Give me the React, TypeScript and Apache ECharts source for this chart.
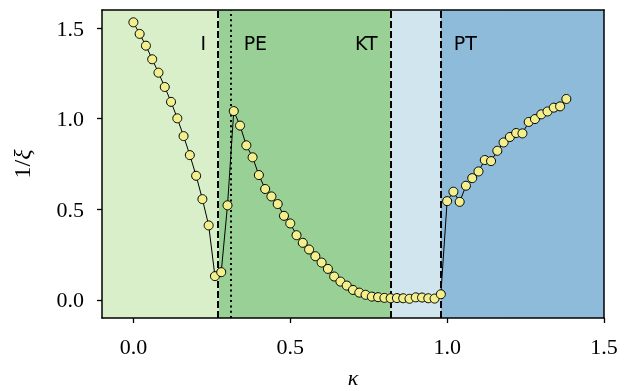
import React, { useEffect, useRef } from "react";
import * as echarts from "echarts";

const kappa = [
  0.0, 0.02, 0.04, 0.06, 0.08, 0.1, 0.12, 0.14, 0.16, 0.18,
  0.2, 0.22, 0.24, 0.26, 0.28, 0.3, 0.32, 0.34, 0.36, 0.38,
  0.4, 0.42, 0.44, 0.46, 0.48, 0.5, 0.52, 0.54, 0.56, 0.58,
  0.6, 0.62, 0.64, 0.66, 0.68, 0.7, 0.72, 0.74, 0.76, 0.78,
  0.8, 0.82, 0.84, 0.86, 0.88, 0.9, 0.92, 0.94, 0.96, 0.98,
  1.0, 1.02, 1.04, 1.06, 1.08, 1.1, 1.12, 1.14, 1.16, 1.18,
  1.2, 1.22, 1.24, 1.26, 1.28, 1.3, 1.32, 1.34, 1.36, 1.38,
];

const invXi = [
  1.532, 1.468, 1.403, 1.328, 1.254, 1.175, 1.093, 1.002, 0.904, 0.799,
  0.685, 0.556, 0.411, 0.131, 0.153, 0.522, 1.042, 0.962, 0.853, 0.787,
  0.689, 0.612, 0.571, 0.529, 0.464, 0.422, 0.357, 0.315, 0.278, 0.241,
  0.206, 0.171, 0.129, 0.101, 0.079, 0.055, 0.04, 0.028, 0.018, 0.015,
  0.011, 0.009, 0.01, 0.009, 0.006, 0.014, 0.013, 0.009, 0.007, 0.031,
  0.545, 0.597, 0.541, 0.63, 0.672, 0.709, 0.772, 0.766, 0.823, 0.869,
  0.899, 0.921, 0.919, 0.982, 0.998, 1.024, 1.04, 1.061, 1.068, 1.109,
];

const xTicks = [0, 0.5, 1.0, 1.5];
const yTicks = [0, 0.5, 1.0, 1.5];

// phase boundaries
const regionEdges = [-0.1, 0.273, 0.82, 0.98, 1.5];
const regionColors = ["#d8efc9", "#98d095", "#d1e5ef", "#8fbbda"];
const dashedLines = [0.273, 0.82, 0.98];
const dottedLines = [0.31];

const phaseLabels = ["I", "PE", "KT", "PT"];
const phaseLabelAnchors = [0.273, 0.31, 0.82, 0.98];
const phaseLabelSides = ["left", "right", "left", "right"];
const phaseLabelY = 1.42;

const App: React.FC = () => {
  const ref = useRef<HTMLDivElement>(null);

  useEffect(() => {
    if (!ref.current) return;
    const chart = echarts.init(ref.current, undefined, { renderer: "svg" });
    const serif = "'Liberation Serif', 'DejaVu Serif', serif";
    const sans = "'DejaVu Sans', sans-serif";
    const tickFont = 22;

    const markAreaData = regionColors.map((c, i) => [
      { xAxis: regionEdges[i], itemStyle: { color: c } },
      { xAxis: regionEdges[i + 1] },
    ]);

    const markLineData = [
      ...dashedLines.map((v) => ({
        xAxis: v,
        lineStyle: { color: "#000", width: 2, type: [7, 3] as any },
      })),
      ...dottedLines.map((v) => ({
        xAxis: v,
        lineStyle: { color: "#000", width: 2, type: [2, 3.3] as any },
      })),
    ];

    const markPointData = phaseLabels.map((t, i) => ({
      coord: [phaseLabelAnchors[i], phaseLabelY],
      symbol: "rect",
      symbolSize: 0,
      label: {
        show: true,
        formatter: t,
        position: phaseLabelSides[i],
        distance: 13,
        color: "#000",
        fontSize: 19,
        fontFamily: sans,
      },
    }));

    const axisLineStyle = { color: "#000", width: 1.5 };

    chart.setOption({
      animation: false,
      grid: {
        left: 102,
        top: 10,
        width: 502,
        height: 308,
        containLabel: false,
        outerBoundsMode: "none",
      },
      xAxis: [
        {
          type: "value",
          min: -0.1,
          max: 1.5,
          z: 10,
          axisLine: { show: true, onZero: false, lineStyle: axisLineStyle },
          axisTick: {
            show: true,
            customValues: xTicks,
            length: 5,
            lineStyle: { color: "#000", width: 1.3 },
          },
          axisLabel: {
            customValues: xTicks,
            formatter: (v: number) => v.toFixed(1),
            color: "#000",
            fontSize: tickFont,
            fontFamily: serif,
            margin: 17,
          },
          splitLine: { show: false },
          name: "κ",
          nameLocation: "middle",
          nameGap: 48,
          nameTextStyle: {
            color: "#000",
            fontSize: 22,
            fontFamily: serif,
            fontStyle: "italic",
          },
        },
        {
          type: "value",
          position: "top",
          min: -0.1,
          max: 1.5,
          z: 10,
          axisLine: { show: true, onZero: false, lineStyle: axisLineStyle },
          axisTick: { show: false },
          axisLabel: { show: false },
          splitLine: { show: false },
        },
      ],
      yAxis: [
        {
          type: "value",
          min: -0.1,
          max: 1.6,
          z: 10,
          axisLine: { show: true, onZero: false, lineStyle: axisLineStyle },
          axisTick: {
            show: true,
            customValues: yTicks,
            length: 5,
            lineStyle: { color: "#000", width: 1.3 },
          },
          axisLabel: {
            customValues: yTicks,
            formatter: (v: number) => v.toFixed(1),
            color: "#000",
            fontSize: tickFont,
            fontFamily: serif,
            margin: 18,
          },
          splitLine: { show: false },
          name: "{a|1/}{b|ξ}",
          nameLocation: "middle",
          nameGap: 68,
          nameRotate: 90,
          nameTextStyle: {
            color: "#000",
            fontSize: 24,
            fontFamily: serif,
            rich: {
              a: { fontSize: 24, fontFamily: serif, color: "#000" },
              b: { fontSize: 24, fontFamily: serif, fontStyle: "italic", color: "#000" },
            },
          },
        },
        {
          type: "value",
          position: "right",
          min: -0.1,
          max: 1.6,
          z: 10,
          axisLine: { show: true, onZero: false, lineStyle: axisLineStyle },
          axisTick: { show: false },
          axisLabel: { show: false },
          splitLine: { show: false },
        },
      ],
      series: [
        {
          type: "line",
          name: "phases",
          xAxisIndex: 0,
          yAxisIndex: 0,
          data: [],
          z: 1,
          silent: true,
          markArea: { silent: true, data: markAreaData },
          markLine: {
            silent: true,
            symbol: ["none", "none"],
            label: { show: false },
            data: markLineData,
          },
          markPoint: { silent: true, data: markPointData },
        },
        {
          type: "line",
          name: "1/xi",
          xAxisIndex: 0,
          yAxisIndex: 0,
          z: 5,
          data: kappa.map((k, i) => [k, invXi[i]]),
          symbol: "circle",
          symbolSize: 9,
          showAllSymbol: true,
          lineStyle: { color: "#000", width: 1 },
          itemStyle: { color: "#f3ef8c", borderColor: "#000", borderWidth: 1 },
        },
      ],
    });

    return () => chart.dispose();
  }, []);

  return (
    <div
      ref={ref}
      style={{ position: "fixed", left: 0, top: 0, width: 633, height: 391 }}
    />
  );
};

export default App;
